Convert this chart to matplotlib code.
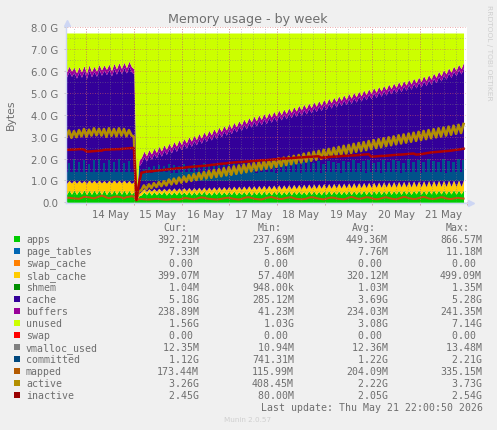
import numpy as np
import matplotlib
matplotlib.use('Agg')
import matplotlib.pyplot as plt
from matplotlib.lines import Line2D
from matplotlib.patches import Rectangle

W, H = 497, 431

# all series in hundredths of a GB, one sample about every 2.5 pixels
apps = [36,55,37,56,36,54,37,57,35,55,36,56,37,55,36,57,35,54,37,56,36,55,37,56,36,55,37,50,8,30,
    34,48,34,50,33,49,34,48,35,50,33,48,34,49,34,50,35,48,34,50,
    33,49,34,50,35,51,34,48,33,50,35,51,34,49,34,50,35,52,34,49,
    35,50,34,52,33,50,35,51,34,52,35,50,34,51,36,52,34,50,35,53,
    34,51,36,52,35,50,34,53,36,52,35,51,34,52,36,54,35,52,36,53,
    35,52,36,54,35,53,36,52,37,55,35,53,36,54,37,55,36,53,37,56,
    36,54,37,55,36,56,37,54,36,55,38,57,37,55,36,56,38,57,37,56,
    38,57,37,55,38,58,37,56,38,57]
slab_top = [86,100,88,102,87,101,88,100,86,103,88,101,87,102,88,100,87,101,88,103,87,101,88,102,87,100,86,95,10,40,
    50,62,50,62,51,63,51,64,51,64,52,65,52,66,52,66,53,67,53,68,
    53,68,54,69,54,70,54,70,55,71,55,72,56,72,56,73,56,74,57,74,
    57,75,58,76,58,76,58,77,59,78,59,78,60,79,60,80,60,80,61,81,
    61,82,62,82,62,83,62,84,63,84,63,85,64,86,64,86,64,87,65,88,
    65,88,66,89,66,90,66,90,67,91,67,92,68,92,68,93,68,94,69,94,
    69,95,69,96,70,96,70,97,70,98,71,98,71,99,71,100,72,100,72,101,
    72,101,72,102,73,102,73,103,73,103]
buffers_top = [597,622,600,618,592,620,596,625,590,628,598,622,600,630,605,628,608,632,602,635,610,638,612,640,615,645,620,610,40,190,
    206,234,213,241,221,248,228,256,235,263,243,270,250,278,257,285,265,292,272,300,
    280,307,287,315,294,322,302,329,309,337,316,344,324,351,331,359,338,366,346,373,
    353,381,360,388,368,395,373,400,379,406,384,411,390,416,395,422,401,427,406,433,
    411,438,417,444,422,449,428,454,433,460,439,465,444,471,449,476,455,481,460,487,
    466,492,471,498,476,503,482,508,487,514,493,519,498,525,503,530,509,535,514,541,
    520,546,525,552,530,557,536,562,541,568,547,573,552,579,557,584,563,591,571,599,
    579,607,587,615,595,623,603,631,611,640]
committed = [138,178,140,196,138,186,140,195,138,176,140,192,138,198,140,180,138,194,140,184,138,196,140,178,138,190,140,140,10,165,
    136,150,136,160,136,168,137,172,137,165,138,175,136,172,136,165,137,174,137,168,
    138,176,137,170,136,178,137,172,138,180,137,176,136,172,138,182,137,178,136,174,
    138,184,137,178,138,186,136,180,138,176,137,186,138,182,136,188,137,176,138,184,
    137,190,138,178,136,186,137,192,138,180,137,188,136,176,138,190,137,184,138,178,
    136,190,138,186,137,192,138,180,137,188,136,194,138,178,137,186,136,192,138,182,
    137,194,138,188,136,180,138,196,137,186,138,192,136,184,137,196,138,188,137,182,
    138,196,136,190,137,186,138,198,137,192]
mapped = [20,21,19,18,17,16,20,25,24,23,20,18,22,26,30,27,22,19,21,24,26,25,22,18,24,25,28,26,10,14,
    15,14,13,13,14,15,16,15,14,13,12,13,14,15,14,13,
    15,18,19,17,15,14,16,20,22,21,18,16,15,14,13,14,
    16,18,20,21,18,16,14,13,15,19,22,23,20,17,15,14,
    13,16,20,22,24,21,18,16,15,17,20,22,23,19,16,15,
    14,15,17,21,23,22,19,17,15,14,16,20,22,21,18,16,
    15,14,17,21,24,22,18,16,17,20,23,22,19,16,14,15,
    18,21,23,20,17,15,14,17,21,24,23,19,17,15,16,19,
    22,24,22,18,16,15,17,20,23,22,18,16,15,17,19,20,
    18,17]
active = [300,328,295,325,298,330,302,335,300,332,305,338,306,336,305,335,300,338,304,335,302,338,305,335,302,330,306,300,15,50,
    55,77,60,82,65,87,70,92,74,96,77,104,82,108,85,113,90,118,94,124,
    98,129,102,134,106,138,109,143,112,147,116,151,119,156,123,160,126,164,130,168,
    134,172,138,176,142,180,146,184,150,188,154,192,158,196,162,200,166,204,170,208,
    174,212,178,216,182,222,186,226,190,231,195,235,199,240,204,244,208,249,213,253,
    217,258,222,262,226,267,231,271,235,275,239,280,244,284,248,288,252,293,257,297,
    261,301,265,306,269,310,273,314,277,318,281,322,285,326,289,330,293,334,297,338,
    301,342,305,346,309,350,313,354,317,358]
inactive = [240,240,241,241,242,243,243,241,232,232,233,234,235,236,236,240,241,241,242,242,243,243,244,245,246,247,248,248,10,85,135,
    138,140,141,142,143,145,146,147,148,150,151,152,153,155,156,157,158,160,161,162,163,164,165,
    166,167,168,169,171,172,173,175,176,177,178,180,181,182,183,184,184,185,186,187,
    188,189,190,191,192,193,193,194,195,196,197,198,199,200,200,201,202,203,204,205,
    205,206,207,208,208,209,210,210,204,205,206,
    207,208,209,209,210,211,212,212,213,214,214,215,216,217,218,219,220,
    209,209,210,211,212,212,213,214,215,216,217,218,218,219,220,221,222,223,218,219,220,222,224,226,228,
    229,230,231,232,233,234,235,236,238,240,241,243,245]

total_mem = 7.74
buffers_size = 0.24
committed_floor = 0.98

day_labels = ['14 May', '15 May', '16 May', '17 May', '18 May', '19 May', '20 May', '21 May']
y_labels = ['0.0', '1.0 G', '2.0 G', '3.0 G', '4.0 G', '5.0 G', '6.0 G', '7.0 G', '8.0 G']

names = ['apps', 'page_tables', 'swap_cache', 'slab_cache', 'shmem', 'cache', 'buffers', 'unused',
         'swap', 'vmalloc_used', 'committed', 'mapped', 'active', 'inactive']
colors = ['#00CC00', '#0066B3', '#FF8000', '#FFCC00', '#008F00', '#330099', '#990099', '#CCFF00',
          '#FF0000', '#808080', '#00487D', '#B35A00', '#B38F00', '#990000']
cur = ['392.21M', '7.33M', '0.00', '399.07M', '1.04M', '5.18G', '238.89M', '1.56G', '0.00', '12.35M', '1.12G', '173.44M', '3.26G', '2.45G']
mins = ['237.69M', '5.86M', '0.00', '57.40M', '948.00k', '285.12M', '41.23M', '1.03G', '0.00', '10.94M', '741.31M', '115.99M', '408.45M', '80.00M']
avgs = ['449.36M', '7.76M', '0.00', '320.12M', '1.03M', '3.69G', '234.03M', '3.08G', '0.00', '12.36M', '1.22G', '204.09M', '2.22G', '2.05G']
maxs = ['866.57M', '11.18M', '0.00', '499.09M', '1.35M', '5.28G', '241.35M', '7.14G', '0.00', '13.48M', '2.21G', '335.15M', '3.73G', '2.54G']

text_gray = '#6e6e6e'


def fx(px):
    return px / W


def fy(py):
    return 1 - py / H


def generate_plot():
    fig = plt.figure(figsize=(W / 100, H / 100), dpi=100, facecolor='#f0f0f0')
    ax = fig.add_axes([fx(66.5), fy(203.3), 401 / W, 175 / H], facecolor='white')

    apps_g = np.array(apps) / 100
    slab_g = np.array(slab_top) / 100
    top_g = np.array(buffers_top) / 100
    comm_g = np.array(committed) / 100
    hours = np.arange(len(apps_g)) * 200 / 159
    buf_bottom = np.maximum(slab_g, top_g - buffers_size)

    ax.fill_between(hours, 0, apps_g, color=colors[0], lw=0)
    ax.fill_between(hours, apps_g, slab_g, color=colors[3], lw=0)
    ax.fill_between(hours, slab_g, buf_bottom, color=colors[5], lw=0)
    ax.fill_between(hours, buf_bottom, top_g, color=colors[6], lw=0)
    ax.fill_between(hours, top_g, total_mem, color=colors[7], lw=0)

    # committed reads as a band with spikes on top of the cache area
    ax.fill_between(hours, committed_floor, comm_g, where=comm_g > committed_floor,
                    step='mid', color='#00528a', lw=0, zorder=2)
    ax.plot(hours, np.array(mapped) / 100, color='#c4560a', lw=1.5, zorder=3)
    ax.plot(hours, np.array(active) / 100, color=colors[12], lw=1.9, zorder=3)
    ax.plot(hours, np.array(inactive) / 100, color='#b00000', lw=1.8, zorder=4)

    ax.set_xlim(0, 200.5)
    ax.set_ylim(0, 8)
    for s in ax.spines.values():
        s.set_visible(False)

    midnights = [10 + 24 * k for k in range(9)]
    noons = [22 + 24 * k for k in range(8)]
    six_hours = [4 + 6 * k for k in range(33)]
    ax.vlines(six_hours, 0, 8, colors='#808080', linestyles=(0, (1, 2)), lw=0.6, alpha=0.6, zorder=5)
    ax.vlines(midnights, 0, 8, colors='#e06060', linestyles=(0, (1, 2)), lw=0.6, alpha=0.7, zorder=5)
    ax.hlines(np.arange(0.5, 8, 1), 0, 200.5, colors='#808080', linestyles=(0, (1, 2)), lw=0.6, alpha=0.6, zorder=5)
    ax.hlines(np.arange(0, 9, 1), 0, 200.5, colors='#e06060', linestyles=(0, (1, 2)), lw=0.6, alpha=0.7, zorder=5)

    ax.set_xticks(midnights)
    ax.set_xticklabels([])
    ax.set_xticks(noons, day_labels, minor=True)
    ax.set_yticks(range(9), y_labels)
    ax.tick_params(axis='x', which='major', length=2, width=0.6, color='#d09090')
    ax.tick_params(axis='x', which='minor', length=0, pad=5, labelsize=7.3, labelcolor=text_gray)
    ax.tick_params(axis='y', length=2, width=0.6, color='#c0c0c0', pad=4, labelsize=7.3, labelcolor=text_gray)

    # axis lines and little arrows, rrdtool style
    arrow_c = '#cdd6f4'
    fig.add_artist(Line2D([fx(66), fx(66)], [fy(203.5), fy(26)], color=arrow_c, lw=1))
    fig.add_artist(Line2D([fx(66), fx(468)], [fy(203.5), fy(203.5)], color=arrow_c, lw=1))
    fig.add_artist(Line2D([fx(66.5)], [fy(24)], marker='^', ms=5, color=arrow_c, lw=0))
    fig.add_artist(Line2D([fx(471)], [fy(203.5)], marker='>', ms=5, color=arrow_c, lw=0))

    fig.text(fx(248), fy(19), 'Memory usage - by week', ha='center', va='center', fontsize=9.1, color=text_gray)
    fig.text(fx(11), fy(115), 'Bytes', rotation=90, ha='center', va='center', fontsize=7.8, color=text_gray)
    fig.text(fx(489.5), fy(53), 'RRDTOOL / TOBI OETIKER', rotation=270, ha='center', va='center',
             fontsize=5.4, color='#cfcfcf')

    mono = dict(family='DejaVu Sans Mono', fontsize=7.1, color=text_gray, va='center')
    col_x = [157, 252, 346, 440]
    headers = ['Cur:', 'Min:', 'Avg:', 'Max:']
    for x, head in zip(col_x, headers):
        fig.text(fx(x + 6), fy(228), head, **mono)
    for i, name in enumerate(names):
        y = 240 + i * 12.02
        fig.add_artist(Rectangle((fx(14), fy(y + 3)), 6 / W, 6 / H, transform=fig.transFigure,
                                 facecolor=colors[i], edgecolor='none'))
        fig.text(fx(26), fy(y), name, **mono)
        for x, col in zip(col_x, [cur, mins, avgs, maxs]):
            val = col[i] if col[i][-1].isalpha() else col[i] + ' '
            fig.text(fx(x), fy(y), f'{val:>7}', **mono)
    fig.text(fx(483), fy(407.7), 'Last update: Thu May 21 22:00:50 2026', ha='right', **mono)
    fig.text(fx(248), fy(420), 'Munin 2.0.57', ha='center', va='center', fontsize=5.2, color='#cfcfcf')

    fig.savefig('out.png', dpi=100, facecolor=fig.get_facecolor())


if __name__ == "__main__":
    generate_plot()
